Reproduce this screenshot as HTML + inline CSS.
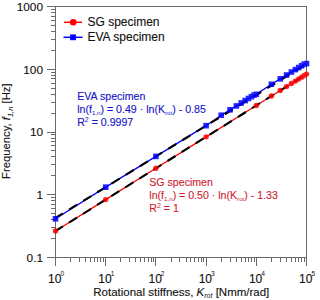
<!DOCTYPE html><html><head><meta charset="utf-8"><style>html,body{margin:0;padding:0;background:#fff}svg{display:block}text{font-family:"Liberation Sans",sans-serif;stroke-width:0.12px} tspan.s{stroke-width:0}</style></head><body>
<svg width="315" height="300" viewBox="0 0 315 300">
<rect width="315" height="300" fill="#fff"/>
<rect x="55.5" y="6.5" width="251.00" height="251.00" fill="none" stroke="#6a6a6a" stroke-width="1"/>
<path d="M47 257.5H55.5 M51 238.5H55.5 M51 227.5H55.5 M51 219.5H55.5 M51 213.5H55.5 M51 208.5H55.5 M51 204.5H55.5 M51 200.5H55.5 M51 197.5H55.5 M47 194.5H55.5 M51 175.5H55.5 M51 164.5H55.5 M51 156.5H55.5 M51 150.5H55.5 M51 145.5H55.5 M51 141.5H55.5 M51 138.5H55.5 M51 134.5H55.5 M47 132.5H55.5 M51 113.5H55.5 M51 102.5H55.5 M51 94.5H55.5 M51 88.5H55.5 M51 83.5H55.5 M51 78.5H55.5 M51 75.5H55.5 M51 72.5H55.5 M47 69.5H55.5 M51 50.5H55.5 M51 39.5H55.5 M51 31.5H55.5 M51 25.5H55.5 M51 20.5H55.5 M51 16.5H55.5 M51 12.5H55.5 M51 9.5H55.5 M47 6.5H55.5 M55.5 258V266 M70.5 258V262 M79.5 258V262 M85.5 258V262 M90.5 258V262 M94.5 258V262 M97.5 258V262 M100.5 258V262 M103.5 258V262 M105.5 258V266 M120.5 258V262 M129.5 258V262 M135.5 258V262 M140.5 258V262 M144.5 258V262 M148.5 258V262 M151.5 258V262 M153.5 258V262 M155.5 258V266 M171.5 258V262 M179.5 258V262 M186.5 258V262 M190.5 258V262 M194.5 258V262 M198.5 258V262 M201.5 258V262 M203.5 258V262 M206.5 258V266 M221.5 258V262 M230.5 258V262 M236.5 258V262 M241.5 258V262 M245.5 258V262 M248.5 258V262 M251.5 258V262 M254.5 258V262 M256.5 258V266 M271.5 258V262 M280.5 258V262 M286.5 258V262 M291.5 258V262 M295.5 258V262 M298.5 258V262 M301.5 258V262 M304.5 258V262 M306.5 258V266" stroke="#6a6a6a" stroke-width="1" fill="none"/>
<text x="43" y="10.80" font-size="11.8" text-anchor="end" fill="#111" stroke="#111">1000</text>
<text x="43" y="73.55" font-size="11.8" text-anchor="end" fill="#111" stroke="#111">100</text>
<text x="43" y="136.30" font-size="11.8" text-anchor="end" fill="#111" stroke="#111">10</text>
<text x="43" y="199.05" font-size="11.8" text-anchor="end" fill="#111" stroke="#111">1</text>
<text x="43" y="261.80" font-size="11.8" text-anchor="end" fill="#111" stroke="#111">0.1</text>
<text x="56.10" y="282.6" font-size="12" text-anchor="middle" fill="#111" stroke="#111">10<tspan class="s" font-size="6.6" dx="-1" dy="-6.5">0</tspan></text>
<text x="106.30" y="282.6" font-size="12" text-anchor="middle" fill="#111" stroke="#111">10<tspan class="s" font-size="6.6" dx="-1" dy="-6.5">1</tspan></text>
<text x="156.50" y="282.6" font-size="12" text-anchor="middle" fill="#111" stroke="#111">10<tspan class="s" font-size="6.6" dx="-1" dy="-6.5">2</tspan></text>
<text x="206.70" y="282.6" font-size="12" text-anchor="middle" fill="#111" stroke="#111">10<tspan class="s" font-size="6.6" dx="-1" dy="-6.5">3</tspan></text>
<text x="256.90" y="282.6" font-size="12" text-anchor="middle" fill="#111" stroke="#111">10<tspan class="s" font-size="6.6" dx="-1" dy="-6.5">4</tspan></text>
<text x="307.10" y="282.6" font-size="12" text-anchor="middle" fill="#111" stroke="#111">10<tspan class="s" font-size="6.6" dx="-1" dy="-6.5">5</tspan></text>
<text x="181.3" y="295.9" font-size="11.5" text-anchor="middle" fill="#111" stroke="#111">Rotational stiffness, <tspan font-style="italic">K</tspan><tspan class="s" font-size="7" font-style="italic" dy="2.5">rot</tspan><tspan dy="-2.5"> [Nmm/rad]</tspan></text>
<text transform="translate(10.4,131.2) rotate(-90)" x="0" y="0" font-size="11.3" text-anchor="middle" fill="#111" stroke="#111">Frequency, <tspan font-style="italic">f</tspan><tspan class="s" font-size="7.5" font-style="italic" dy="2.8">1,n</tspan><tspan dy="-2.8"> [Hz]</tspan></text>
<polyline points="55.50,231.00 105.70,199.62 155.90,168.25 206.10,136.87 256.30,105.50 271.41,96.05 280.25,90.53 286.52,86.61 291.39,83.56 295.36,81.08 298.72,78.98 301.64,77.16 304.20,75.56 306.50,74.12" fill="none" stroke="#ff0000" stroke-width="1.3"/>
<polyline points="55.50,218.80 105.70,187.17 155.90,156.42 206.10,125.67 221.21,115.22 230.05,109.80 236.32,105.96 241.19,102.98 245.16,100.55 248.52,98.49 251.44,96.70 254.00,95.13 256.30,94.32 271.41,84.27 280.25,78.85 286.52,75.01 291.39,72.03 295.36,69.60 298.72,67.54 301.64,65.76 304.20,64.18 306.50,63.58" fill="none" stroke="#0000ff" stroke-width="1.3"/>
<line x1="55.50" y1="231.00" x2="306.50" y2="74.12" stroke="#000" stroke-width="2.1" stroke-dasharray="9.4 7.2" stroke-dashoffset="0.7"/>
<line x1="55.50" y1="217.91" x2="306.50" y2="64.18" stroke="#000" stroke-width="2.1" stroke-dasharray="9.4 7.2" stroke-dashoffset="0.7"/>
<g opacity="0.85">
<circle cx="55.50" cy="231.00" r="2.7" fill="#ff0000"/>
<circle cx="105.70" cy="199.62" r="2.7" fill="#ff0000"/>
<circle cx="155.90" cy="168.25" r="2.7" fill="#ff0000"/>
<circle cx="206.10" cy="136.87" r="2.7" fill="#ff0000"/>
<circle cx="256.30" cy="105.50" r="2.7" fill="#ff0000"/>
<circle cx="271.41" cy="96.05" r="2.7" fill="#ff0000"/>
<circle cx="280.25" cy="90.53" r="2.7" fill="#ff0000"/>
<circle cx="286.52" cy="86.61" r="2.7" fill="#ff0000"/>
<circle cx="291.39" cy="83.56" r="2.7" fill="#ff0000"/>
<circle cx="295.36" cy="81.08" r="2.7" fill="#ff0000"/>
<circle cx="298.72" cy="78.98" r="2.7" fill="#ff0000"/>
<circle cx="301.64" cy="77.16" r="2.7" fill="#ff0000"/>
<circle cx="304.20" cy="75.56" r="2.7" fill="#ff0000"/>
<circle cx="306.50" cy="74.12" r="2.7" fill="#ff0000"/>
<rect x="52.70" y="216.00" width="5.6" height="5.6" fill="#0000ff"/>
<rect x="102.90" y="184.37" width="5.6" height="5.6" fill="#0000ff"/>
<rect x="153.10" y="153.62" width="5.6" height="5.6" fill="#0000ff"/>
<rect x="203.30" y="122.87" width="5.6" height="5.6" fill="#0000ff"/>
<rect x="218.41" y="112.42" width="5.6" height="5.6" fill="#0000ff"/>
<rect x="227.25" y="107.00" width="5.6" height="5.6" fill="#0000ff"/>
<rect x="233.52" y="103.16" width="5.6" height="5.6" fill="#0000ff"/>
<rect x="238.39" y="100.18" width="5.6" height="5.6" fill="#0000ff"/>
<rect x="242.36" y="97.75" width="5.6" height="5.6" fill="#0000ff"/>
<rect x="245.72" y="95.69" width="5.6" height="5.6" fill="#0000ff"/>
<rect x="248.64" y="93.90" width="5.6" height="5.6" fill="#0000ff"/>
<rect x="251.20" y="92.33" width="5.6" height="5.6" fill="#0000ff"/>
<rect x="253.50" y="91.52" width="5.6" height="5.6" fill="#0000ff"/>
<rect x="268.61" y="81.47" width="5.6" height="5.6" fill="#0000ff"/>
<rect x="277.45" y="76.05" width="5.6" height="5.6" fill="#0000ff"/>
<rect x="283.72" y="72.21" width="5.6" height="5.6" fill="#0000ff"/>
<rect x="288.59" y="69.23" width="5.6" height="5.6" fill="#0000ff"/>
<rect x="292.56" y="66.80" width="5.6" height="5.6" fill="#0000ff"/>
<rect x="295.92" y="64.74" width="5.6" height="5.6" fill="#0000ff"/>
<rect x="298.84" y="62.96" width="5.6" height="5.6" fill="#0000ff"/>
<rect x="301.40" y="61.38" width="5.6" height="5.6" fill="#0000ff"/>
<rect x="303.70" y="60.78" width="5.6" height="5.6" fill="#0000ff"/>
</g>
<line x1="64" y1="22.3" x2="82" y2="22.3" stroke="#ff0000" stroke-width="1.5"/><circle cx="73.2" cy="22.2" r="3.3" fill="#ff0000"/>
<line x1="63.5" y1="37.3" x2="82.5" y2="37.3" stroke="#0000ff" stroke-width="1.5"/><rect x="70.1" y="34.4" width="5.8" height="5.8" fill="#0000ff"/>
<text x="87.5" y="26.3" font-size="12" fill="#111" stroke="#111">SG specimen</text>
<text x="87.5" y="41.3" font-size="12" fill="#111" stroke="#111">EVA specimen</text>
<g fill="#1414c8" stroke="#1414c8" font-size="10.6"><text x="77.2" y="100.10">EVA specimen</text><text x="77.2" y="112.90">ln(f<tspan class="s" font-size="6.2" dy="2">1,n</tspan><tspan dy="-2">) = 0.49 · ln(K</tspan><tspan class="s" font-size="6.2" dy="2">rot</tspan><tspan dy="-2">) - 0.85</tspan></text><text x="77.2" y="125.70">R<tspan class="s" font-size="7" dy="-3.6">2</tspan><tspan dy="3.6"> = 0.9997</tspan></text></g>
<g fill="#d01e30" stroke="#d01e30" font-size="10.6"><text x="149.3" y="186.30">SG specimen</text><text x="149.3" y="199.10">ln(f<tspan class="s" font-size="6.2" dy="2">1,n</tspan><tspan dy="-2">) = 0.50 · ln(K</tspan><tspan class="s" font-size="6.2" dy="2">rot</tspan><tspan dy="-2">) - 1.33</tspan></text><text x="149.3" y="211.90">R<tspan class="s" font-size="7" dy="-3.6">2</tspan><tspan dy="3.6"> = 1</tspan></text></g>
</svg></body></html>
